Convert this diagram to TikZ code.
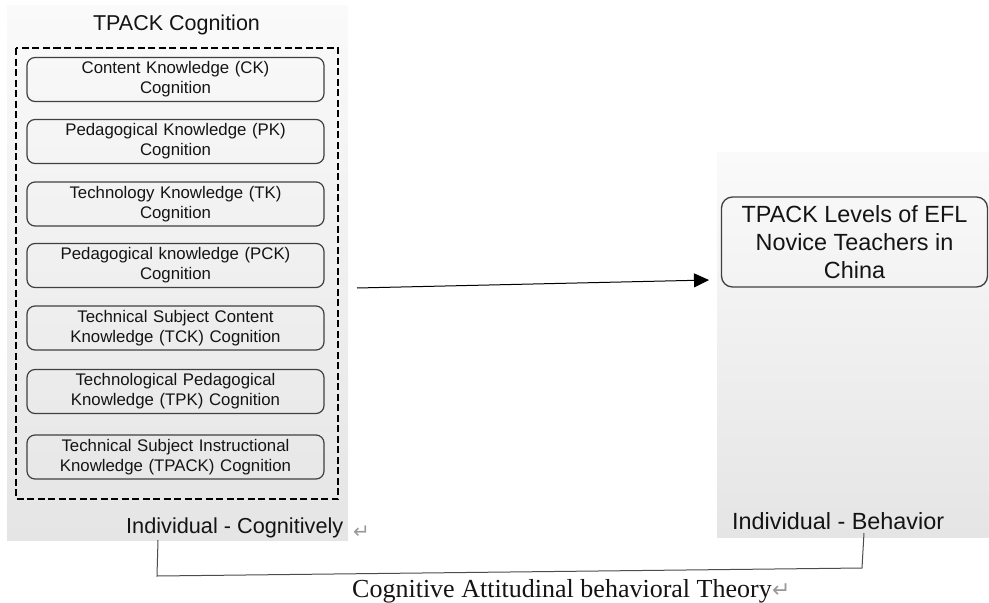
\documentclass[tikz,border=0pt]{standalone}
\usepackage{fontspec}
\setmainfont{Liberation Sans}
\newfontfamily\serifrm{Liberation Serif}
\newfontfamily\symfont{DejaVu Sans}
\usetikzlibrary{arrows.meta}
\definecolor{panelTop}{RGB}{250,250,250}
\definecolor{panelBot}{RGB}{229,229,229}
\definecolor{txt}{RGB}{20,20,20}
\definecolor{edge}{RGB}{64,64,64}
\tikzset{
  kbox/.style={draw=edge, line width=1.2pt, rounded corners=8pt,
    minimum width=297pt, minimum height=44pt, text width=290pt,
    align=center, inner sep=0pt, text=txt,
    font=\fontsize{16.8}{20}\selectfont},
  bigbox/.style={draw=edge, line width=1.3pt, rounded corners=11pt,
    minimum width=266pt, minimum height=90pt, inner sep=0pt,
    align=center, text=txt, font=\fontsize{23.4}{28}\selectfont},
  lbl/.style={anchor=base west, inner sep=0pt, text=txt},
  retmark/.style={anchor=base west, inner sep=0pt, text=black!40,
    font=\symfont\fontsize{20}{22}\selectfont},
  conn/.style={draw=black!70, line width=1pt},
  arr/.style={draw=black, line width=1pt, -{Triangle[length=15pt,width=14pt]}},
}
\begin{document}
\begin{tikzpicture}[x=1pt,y=-1pt]
\useasboundingbox (0,0) rectangle (989,603);
% panels
\shade[top color=panelTop, bottom color=panelBot] (7,5) rectangle (348,540);
\shade[top color=panelTop, bottom color=panelBot] (717,152) rectangle (989,537);
% title
\node[anchor=base, inner sep=0pt, text=txt, font=\fontsize{21.5}{24}\selectfont] (title) at (176.5,30) {TPACK Cognition};
% dashed frame
\draw[black, line width=2.3pt, dash pattern=on 7pt off 3.5pt] (16,48) rectangle (338,499);
% knowledge boxes
\node[kbox] (ck)    at (175.5,79.5)  {Content Knowledge (CK)\\Cognition};
\node[kbox] (pk)    at (175.5,141.5) {Pedagogical Knowledge (PK)\\Cognition};
\node[kbox] (tk)    at (175.5,204)   {Technology Knowledge (TK)\\Cognition};
\node[kbox] (pck)   at (175.5,265.5) {Pedagogical knowledge (PCK)\\Cognition};
\node[kbox] (tck)   at (175.5,328)   {Technical Subject Content\\Knowledge (TCK) Cognition};
\node[kbox] (tpk)   at (175.5,391.5) {Technological Pedagogical\\Knowledge (TPK) Cognition};
\node[kbox] (tpack) at (175.5,457)   {Technical Subject Instructional\\Knowledge (TPACK) Cognition};
% right box
\node[bigbox] (levels) at (854.5,242) {TPACK Levels of EFL\\Novice Teachers in\\China};
% labels
\node[lbl, font=\fontsize{21.7}{24}\selectfont] (indcog) at (126,533) {Individual - Cognitively};
\node[retmark] (ret1) at (353,538) {↵};
\node[lbl, font=\fontsize{23.4}{26}\selectfont] (indbeh) at (732,529) {Individual - Behavior};
\node[lbl, font=\serifrm\fontsize{26}{30}\selectfont] (theory) at (352,597) {Cognitive Attitudinal behavioral Theory};
\node[retmark, font=\symfont\fontsize{22}{24}\selectfont] (ret2) at (theory.base east) {↵};
% main arrow
\coordinate (arS) at (357,288);
\coordinate (arE) at (709,280);
\draw[arr] (arS) -- (arE);
% bottom connector
\coordinate (c1) at (158,540);
\coordinate (c2) at (157,576);
\coordinate (c3) at (862,568);
\coordinate (c4) at (864,533);
\draw[conn] (c1) -- (c2) -- (c3) -- (c4);
\end{tikzpicture}
\end{document}
